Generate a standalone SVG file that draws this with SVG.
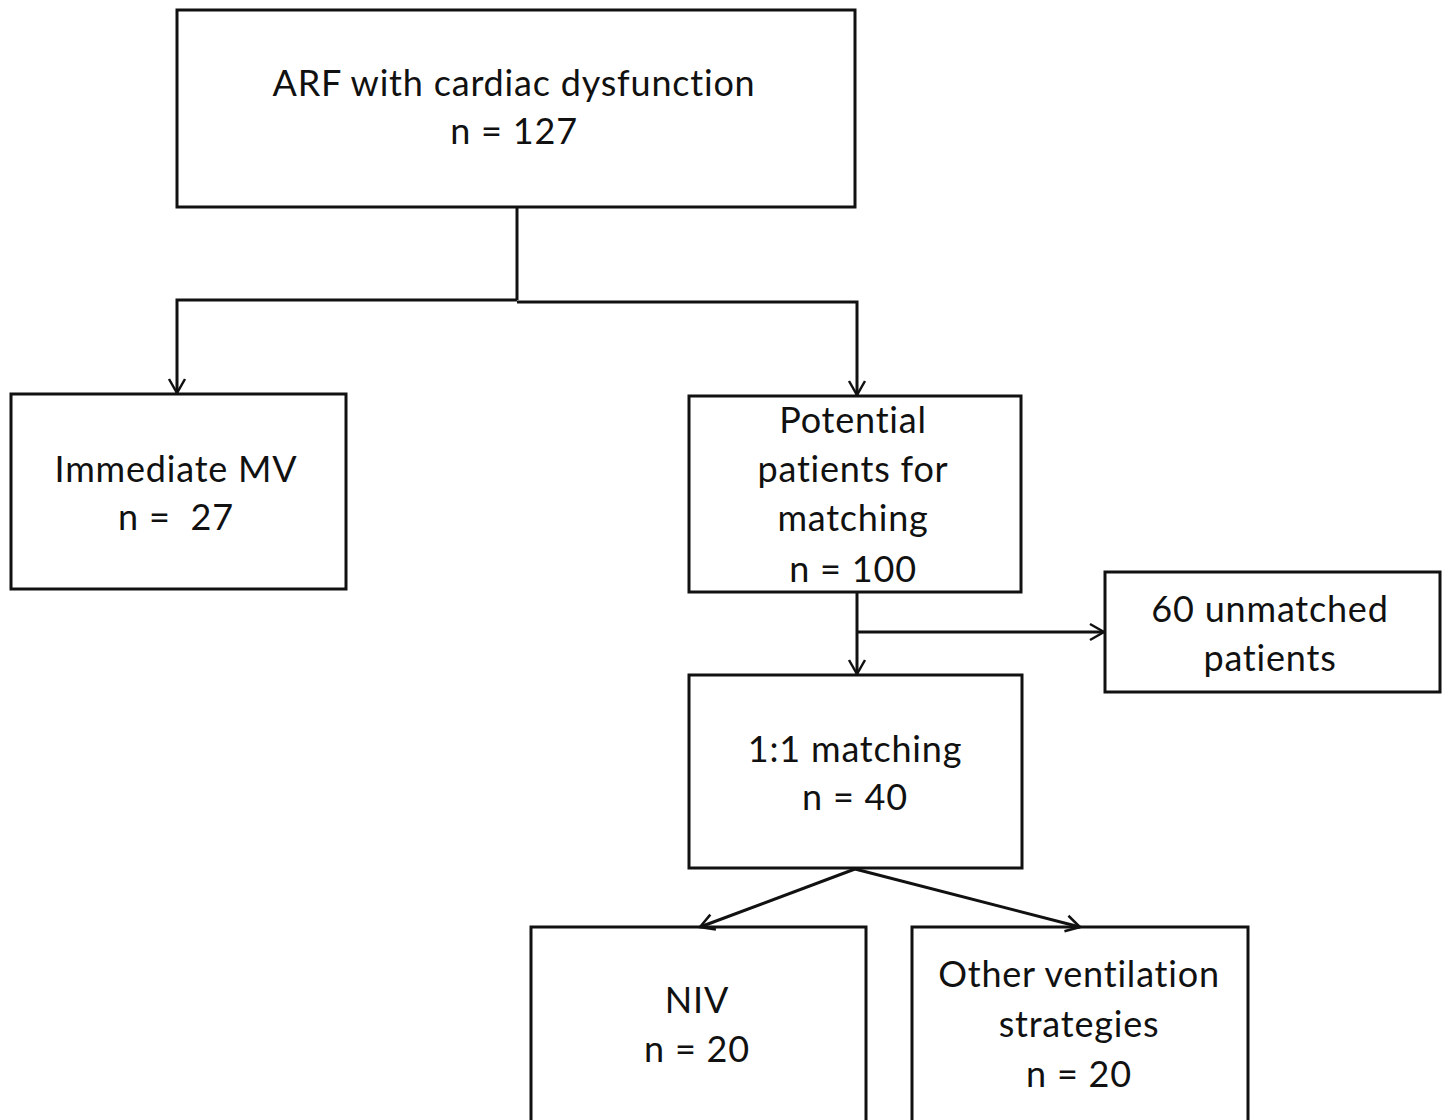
<svg xmlns="http://www.w3.org/2000/svg" width="1443" height="1120" viewBox="0 0 1443 1120">
<style>
.box{fill:#fff;stroke:#111;stroke-width:3}
.t{font-family:Lato,"Open Sans","Liberation Sans",sans-serif;font-size:36px;letter-spacing:0.8px;fill:#111;text-anchor:middle}
.c{fill:none;stroke:#111;stroke-width:3}
</style>
<defs>
<marker id="a" viewBox="0 0 20 20" refX="18" refY="10" markerWidth="20" markerHeight="20" markerUnits="userSpaceOnUse" orient="auto">
<polyline points="4,2 18,10 4,18" fill="none" stroke="#111" stroke-width="2.5"/>
</marker>
</defs>
<rect width="1443" height="1120" fill="#fff"/>
<g id="n1"><rect class="box" x="177" y="10" width="678" height="197"/>
<text class="t" x="514" y="96">ARF with cardiac dysfunction</text>
<text class="t" x="514" y="144">n = 127</text></g>
<g id="n2"><rect class="box" x="11" y="394" width="335" height="195"/>
<text class="t" x="176" y="482">Immediate MV</text>
<text class="t" x="176" y="530" xml:space="preserve">n =  27</text></g>
<g id="n3"><rect class="box" x="689" y="396" width="332" height="196"/>
<text class="t" x="853" y="433">Potential</text>
<text class="t" x="853" y="482">patients for</text>
<text class="t" x="853" y="531">matching</text>
<text class="t" x="853" y="582">n = 100</text></g>
<g id="n4"><rect class="box" x="1105" y="572" width="335" height="120"/>
<text class="t" x="1270" y="622">60 unmatched</text>
<text class="t" x="1270" y="671">patients</text></g>
<g id="n5"><rect class="box" x="689" y="675" width="333" height="193"/>
<text class="t" x="855" y="762">1:1 matching</text>
<text class="t" x="855" y="810">n = 40</text></g>
<g id="n6"><rect class="box" x="531" y="927" width="335" height="200"/>
<text class="t" x="697" y="1013">NIV</text>
<text class="t" x="697" y="1062">n = 20</text></g>
<g id="n7"><rect class="box" x="912" y="927" width="336" height="200"/>
<text class="t" x="1079" y="987">Other ventilation</text>
<text class="t" x="1079" y="1037">strategies</text>
<text class="t" x="1079" y="1087">n = 20</text></g>
<g id="connectors">
<polyline class="c" points="517,207 517,300"/>
<polyline class="c" points="517,300 177,300 177,393" marker-end="url(#a)"/>
<polyline class="c" points="517,302 857,302 857,395" marker-end="url(#a)"/>
<polyline class="c" points="857,592 857,674" marker-end="url(#a)"/>
<polyline class="c" points="857,632 1104,632" marker-end="url(#a)"/>
<line class="c" x1="855" y1="869" x2="700" y2="927" marker-end="url(#a)"/>
<line class="c" x1="855" y1="869" x2="1080" y2="927" marker-end="url(#a)"/>
</g>
</svg>
